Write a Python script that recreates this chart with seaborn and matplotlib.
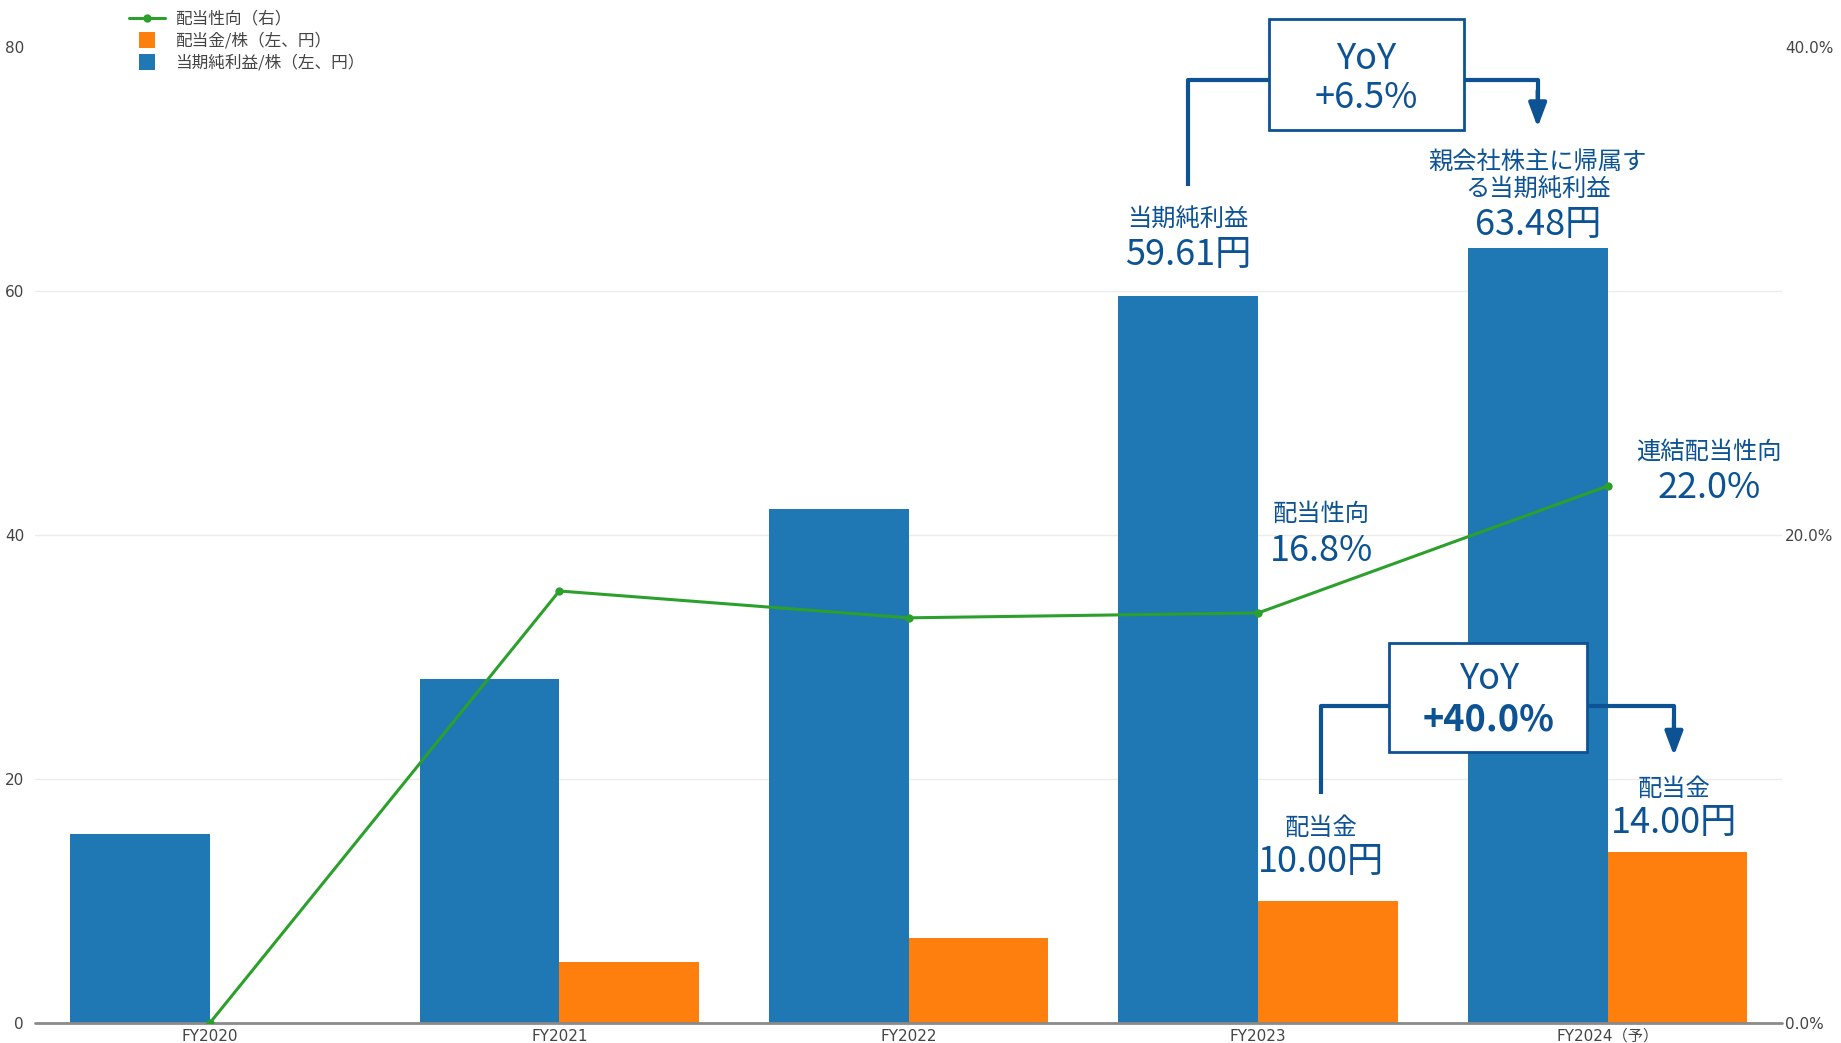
import numpy as np
import pandas as pd
import matplotlib
matplotlib.use("Agg")
import matplotlib.pyplot as plt
import seaborn as sns
from matplotlib.lines import Line2D
from matplotlib.patches import Rectangle

# ---- data ----
categories = ["FY2020", "FY2021", "FY2022", "FY2023", "FY2024（予）"]
eps = [15.5, 28.2, 42.1, 59.61, 63.48]          # 当期純利益/株（左、円）
dps = [0.0, 5.0, 7.0, 10.0, 14.0]               # 配当金/株（左、円）
payout = [0.0, 17.7, 16.6, 16.8, 22.0]          # 配当性向（右, %）

series_eps = "当期純利益/株（左、円）"
series_dps = "配当金/株（左、円）"
series_payout = "配当性向（右）"

sns.set_theme(style="white")
plt.rcParams['font.family'] = ['Noto Sans CJK JP', 'DejaVu Sans']

BLUE = "#1f77b4"
ORANGE = "#ff7f0e"
GREEN = "#2ca02c"
NAVY = "#0d5394"

df = pd.DataFrame({
    "category": categories * 2,
    "value": eps + dps,
    "series": [series_eps] * len(categories) + [series_dps] * len(categories),
})

fig = plt.figure(figsize=(18.41, 10.43), dpi=100)
ax = fig.add_axes([0.0191, 0.0192, 0.949, 0.936])

sns.barplot(data=df, x="category", y="value", hue="series",
            hue_order=[series_eps, series_dps],
            palette=[BLUE, ORANGE], width=0.8, dodge=True,
            saturation=1, legend=False, ax=ax, linewidth=0)
ax.set_xlim(-0.5, 4.5)
ax.set_ylim(0, 80)
ax.set_yticks([0, 20, 40, 60, 80])
ax.set_xlabel("")
ax.set_ylabel("")
for y in [20, 40, 60]:
    ax.axhline(y, color="#ececec", lw=1, zorder=0)
ax.axhline(0, color="#8a8a8a", lw=2, zorder=5, clip_on=False)
for s in ax.spines.values():
    s.set_visible(False)
ax.tick_params(axis="y", length=0, pad=8, labelsize=11, labelcolor="#444444")
ax.tick_params(axis="x", length=0, pad=4, labelsize=11, labelcolor="#444444")
for lab in ax.get_yticklabels() + ax.get_xticklabels():
    lab.set_family(["DejaVu Sans", "Noto Sans CJK JP"])

ax2 = ax.twinx()
sns.lineplot(x=np.arange(len(categories)), y=payout, color=GREEN, lw=2.2,
             marker="o", markersize=6, markeredgewidth=0, ax=ax2)
ax2.set_ylim(0, 40)
ax2.set_yticks([0, 20, 40])
ax2.set_yticklabels([f"{v:.1f}%" for v in [0, 20, 40]])
ax2.tick_params(axis="y", length=0, pad=2, labelsize=11, labelcolor="#444444")
for lab in ax2.get_yticklabels():
    lab.set_family(["DejaVu Sans"])
for s in ax2.spines.values():
    s.set_visible(False)
ax2.set_xlim(-0.5, 4.5)

# ---- annotations (in left-axis units, drawn on top axis) ----
LBL = 17.5
VAL = 26
K = 0.5  # left-axis units -> right-axis units

def txt(x, y, s, size, weight="normal"):
    ax2.text(x, y * K, s, ha="center", va="center", fontsize=size, color=NAVY,
             fontweight=weight, clip_on=False, zorder=10)

txt(2.8, 65.8, "当期純利益", LBL)
txt(2.8, 62.9, f"{eps[3]:.2f}円", VAL)
txt(3.8, 70.6, "親会社株主に帰属す", LBL)
txt(3.8, 68.3, "る当期純利益", LBL)
txt(3.8, 65.4, f"{eps[4]:.2f}円", VAL)
txt(3.18, 41.7, "配当性向", LBL)
txt(3.18, 38.7, f"{payout[3]:.1f}%", VAL)
txt(4.29, 46.8, "連結配当性向", LBL)
txt(4.29, 43.8, f"{payout[4]:.1f}%", VAL)
txt(3.18, 16.0, "配当金", LBL)
txt(3.18, 13.2, f"{dps[3]:.2f}円", VAL)
txt(4.19, 19.2, "配当金", LBL)
txt(4.19, 16.4, f"{dps[4]:.2f}円", VAL)

def bracket(x_left, y_start, y_bar, box_x0, box_x1, box_y0, box_y1, x_right, y_arrow):
    ax2.plot([x_left, x_left, box_x0], [y_start * K, y_bar * K, y_bar * K],
             color=NAVY, lw=3, clip_on=False, zorder=10, solid_capstyle="butt")
    ax2.plot([box_x1, x_right, x_right], [y_bar * K, y_bar * K, (y_arrow + 1.5) * K],
             color=NAVY, lw=3, clip_on=False, zorder=10, solid_capstyle="butt")
    ax2.annotate("", xy=(x_right, y_arrow * K), xytext=(x_right, (y_arrow + 3) * K),
                 arrowprops=dict(arrowstyle="-|>,head_length=1.2,head_width=0.45",
                                 color=NAVY, lw=3, shrinkA=0, shrinkB=0),
                 annotation_clip=False, zorder=10)
    ax2.add_patch(Rectangle((box_x0, box_y0 * K), box_x1 - box_x0, (box_y1 - box_y0) * K,
                            facecolor="white", edgecolor=NAVY, lw=2, clip_on=False, zorder=9))

bracket(2.8, 68.6, 77.3, 3.03, 3.59, 73.2, 82.3, 3.8, 73.4)
txt(3.31, 79.0, "YoY", VAL)
txt(3.31, 75.8, "+6.5%", VAL)

bracket(3.18, 18.8, 26.0, 3.375, 3.94, 22.2, 31.1, 4.19, 21.9)
txt(3.66, 28.2, "YoY", VAL)
txt(3.66, 24.8, "+40.0%", VAL, weight="bold")

# ---- legend ----
handles = [
    Line2D([0], [0], color=GREEN, lw=2.2, marker="o", markersize=6, markeredgewidth=0),
    Line2D([0], [0], color="none", marker="s", markersize=11,
           markerfacecolor=ORANGE, markeredgewidth=0),
    Line2D([0], [0], color="none", marker="s", markersize=11,
           markerfacecolor=BLUE, markeredgewidth=0),
]
fig.legend(handles, [series_payout, series_dps, series_eps], loc="upper left",
           bbox_to_anchor=(0.064, 1.0), frameon=False, fontsize=12,
           labelcolor="#444444", handlelength=2.2, handletextpad=0.6,
           labelspacing=0.3, borderpad=0.15)

fig.savefig("out.png", dpi=100)
